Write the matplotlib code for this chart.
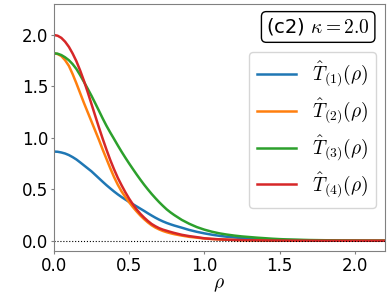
import numpy as np
import matplotlib
matplotlib.use("Agg")
import matplotlib.pyplot as plt

plt.rcParams['mathtext.fontset'] = 'cm'

rho = [0.000, 0.025, 0.050, 0.075, 0.100, 0.125, 0.150, 0.175, 0.200, 0.225,
       0.250, 0.275, 0.300, 0.325, 0.350, 0.375, 0.400, 0.425, 0.450, 0.475,
       0.500, 0.525, 0.550, 0.575, 0.600, 0.625, 0.650, 0.675, 0.700, 0.725,
       0.750, 0.775, 0.800, 0.85, 0.90, 0.95,
       1.00, 1.05, 1.10, 1.15, 1.20, 1.25, 1.30, 1.35, 1.40, 1.45,
       1.50, 1.55, 1.60, 1.65, 1.70, 1.75, 1.80, 1.85, 1.90, 1.95,
       2.00, 2.05, 2.10, 2.15, 2.20]

T1 = [0.867, 0.865, 0.858, 0.848, 0.833, 0.813, 0.790, 0.762, 0.733, 0.704,
      0.675, 0.641, 0.607, 0.573, 0.540, 0.509, 0.479, 0.451, 0.425, 0.401,
      0.378, 0.356, 0.334, 0.312, 0.290, 0.267, 0.245, 0.224, 0.205, 0.188,
      0.173, 0.160, 0.148, 0.127, 0.105, 0.087,
      0.072, 0.059, 0.048, 0.039, 0.032, 0.026, 0.021, 0.017, 0.014, 0.011,
      0.009, 0.007, 0.006, 0.005, 0.004, 0.003, 0.0025, 0.002, 0.0016, 0.0013,
      0.0010, 0.0008, 0.0006, 0.0005, 0.0004]

T2 = [1.822, 1.815, 1.795, 1.755, 1.700, 1.620, 1.530, 1.435, 1.340, 1.250,
      1.160, 1.070, 0.980, 0.885, 0.795, 0.705, 0.620, 0.545, 0.480, 0.425,
      0.375, 0.328, 0.285, 0.245, 0.210, 0.178, 0.150, 0.128, 0.110, 0.095,
      0.083, 0.073, 0.064, 0.050, 0.038, 0.030,
      0.022, 0.017, 0.013, 0.010, 0.007, 0.005, 0.004, 0.003, 0.002, 0.0015,
      0.0011, 0.0008, 0.0006, 0.0004, 0.0003, 0.0002, 0.0002, 0.0001, 0.0001, 0.0001,
      0.0, 0.0, 0.0, 0.0, 0.0]

T3 = [1.822, 1.818, 1.805, 1.783, 1.755, 1.717, 1.670, 1.610, 1.545, 1.478,
      1.410, 1.337, 1.263, 1.188, 1.117, 1.052, 0.990, 0.927, 0.866, 0.808,
      0.752, 0.698, 0.645, 0.594, 0.545, 0.499, 0.455, 0.414, 0.375, 0.339,
      0.305, 0.276, 0.250, 0.203, 0.165, 0.133,
      0.108, 0.088, 0.072, 0.060, 0.050, 0.042, 0.036, 0.030, 0.025, 0.020,
      0.016, 0.013, 0.011, 0.009, 0.007, 0.006, 0.005, 0.004, 0.003, 0.0025,
      0.002, 0.0015, 0.0012, 0.0010, 0.0008]

T4 = [2.000, 1.993, 1.972, 1.935, 1.885, 1.820, 1.745, 1.655, 1.555, 1.445,
      1.330, 1.215, 1.100, 0.990, 0.885, 0.785, 0.695, 0.612, 0.540, 0.472,
      0.410, 0.355, 0.305, 0.262, 0.225, 0.192, 0.163, 0.141, 0.122, 0.108,
      0.097, 0.086, 0.076, 0.058, 0.045, 0.035,
      0.024, 0.018, 0.014, 0.011, 0.008, 0.006, 0.005, 0.004, 0.003, 0.0025,
      0.002, 0.0015, 0.0012, 0.0009, 0.0007, 0.0005, 0.0004, 0.0003, 0.0002, 0.0002,
      0.0001, 0.0001, 0.0001, 0.0, 0.0]

labels = [r'$\hat{T}_{(1)}(\rho)$', r'$\hat{T}_{(2)}(\rho)$',
          r'$\hat{T}_{(3)}(\rho)$', r'$\hat{T}_{(4)}(\rho)$']
colors = ['#1f77b4', '#ff7f0e', '#2ca02c', '#d62728']
xticks = [0.0, 0.5, 1.0, 1.5, 2.0]
yticks = [0.0, 0.5, 1.0, 1.5, 2.0]

fig = plt.figure(figsize=(3.9, 2.95), dpi=100)
ax = fig.add_axes([0.138, 0.149, 0.849, 0.837])

for y, c, l in zip([T1, T2, T3, T4], colors, labels):
    ax.plot(rho, y, color=c, lw=1.8, label=l)

ax.axhline(0.0, color='black', lw=0.8, ls=':')

ax.set_xlim(0, 2.2)
ax.set_ylim(-0.1, 2.3)
ax.set_xticks(xticks)
ax.set_yticks(yticks)
ax.set_xticklabels([f'{v:.1f}' for v in xticks])
ax.set_yticklabels([f'{v:.1f}' for v in yticks])
ax.tick_params(labelsize=12, color='gray', length=2.5, pad=1.5)
for s in ax.spines.values():
    s.set_color('gray')
ax.set_xlabel(r'$\rho$', fontsize=14, labelpad=0)

ax.text(0.955, 0.95, r'(c2) $\kappa=2.0$', transform=ax.transAxes,
        ha='right', va='top', fontsize=14,
        bbox=dict(boxstyle='round,pad=0.25', fc='white', ec='black'))

ax.legend(loc='upper right', bbox_to_anchor=(0.972, 0.805), borderaxespad=0,
          fontsize=14, labelspacing=0.38, handlelength=2.0)

fig.savefig('out.png', dpi=100)
